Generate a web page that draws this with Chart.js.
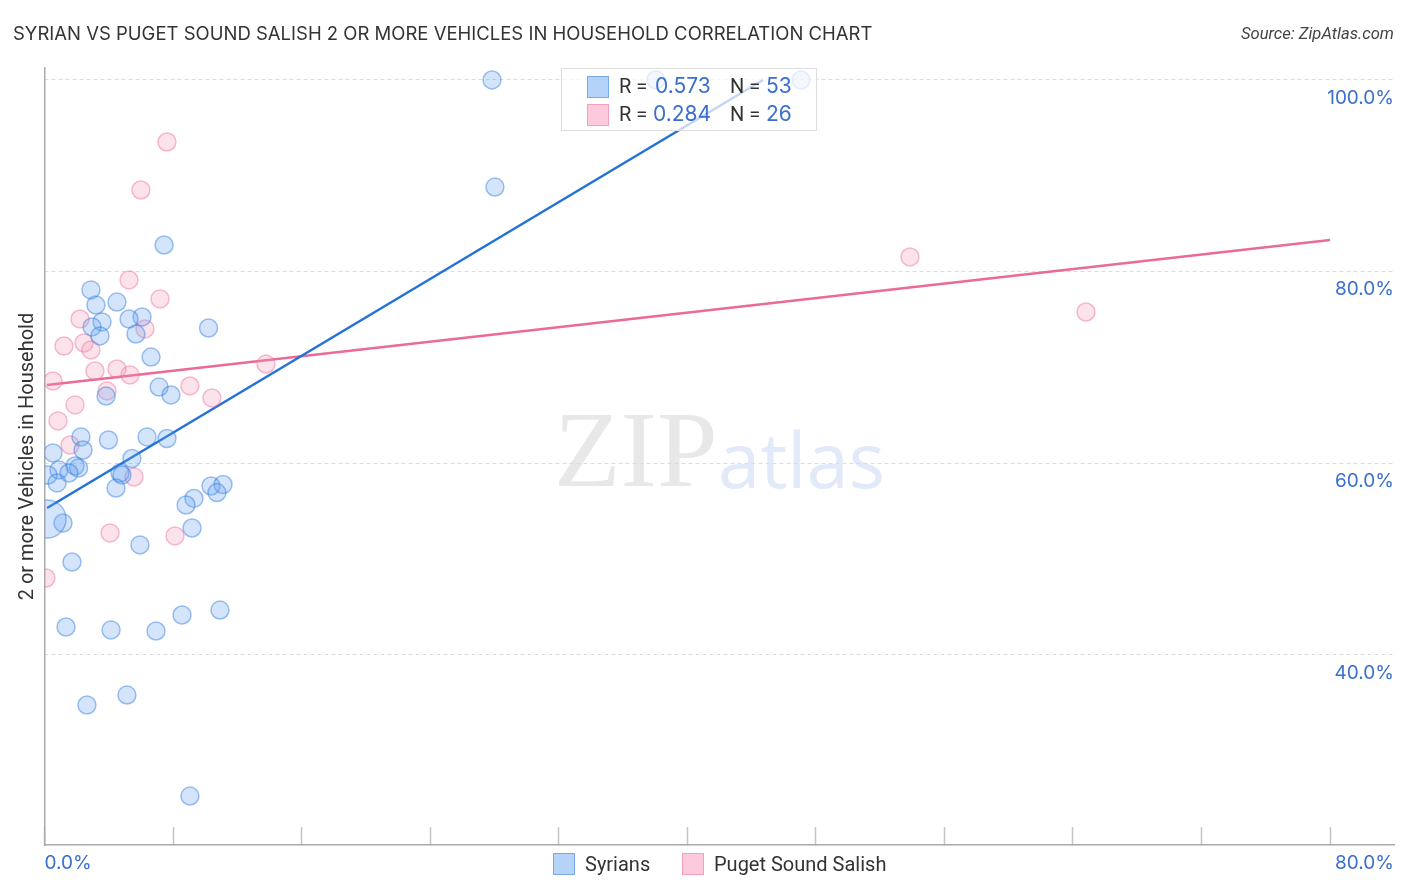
<!DOCTYPE html>
<html>
<head>
<meta charset="utf-8">
<title>Syrian vs Puget Sound Salish</title>
<script src="https://cdn.jsdelivr.net/npm/chart.js@4"></script>
<style>
    body { margin: 0; background: #fff; }
    #pagina { position: relative; width: 1406px; height: 892px; overflow: hidden; font-family: Roboto, sans-serif; }
    #grafico { position: absolute; left: 0; top: 0; }
    #titulo { position: absolute; left: 13px; top: 22px; font-family: Inter, sans-serif; font-size: 18.5px; color: #333; white-space: nowrap; }
    #fuente { position: absolute; right: 12px; top: 24px; font-size: 16.6px; font-style: italic; color: #444; white-space: nowrap; }
    #marcaZip { position: absolute; left: 554px; top: 387px; font-family: "Liberation Serif", serif; font-size: 109px; color: #e8e8e8; }
    #marcaAtlas { position: absolute; left: 718px; top: 407px; font-family: "Open Sans", sans-serif; font-size: 76px; color: #e2eafa; }
    #cajaStats { position: absolute; left: 561px; top: 68px; width: 254px; height: 61px; background: rgba(255,255,255,0.72); border: 1px solid #ddd; }
    .fila { position: absolute; left: 25px; height: 28px; line-height: 28px; font-size: 20px; color: #333; white-space: nowrap; }
    .fila .cuadro, .item .cuadro { position: absolute; width: 20px; height: 20px; border: 1px solid; }
    .fila b { position: absolute; font-weight: 400; font-size: 21px; color: #3a6fd0; font-family: Inter, sans-serif; }
    .fila span.txt { position: absolute; }
    .item { position: absolute; top: 853px; height: 22px; line-height: 22px; font-size: 20px; color: #333; white-space: nowrap; }
</style>
</head>
<body>
<div id="pagina">
    <div id="marcaZip">ZIP</div>
    <div id="marcaAtlas">atlas</div>
    <canvas id="grafico" width="1406" height="892"></canvas>
    <div id="titulo"></div>
    <div id="fuente"></div>
    <div id="cajaStats"></div>
    <div id="leyenda"></div>
</div>
<script>
const titulo = 'SYRIAN VS PUGET SOUND SALISH 2 OR MORE VEHICLES IN HOUSEHOLD CORRELATION CHART';
const fuente = 'Source: ZipAtlas.com';
const tituloEjeY = '2 or more Vehicles in Household';
const nombres = ['Syrians', 'Puget Sound Salish'];
const valoresR = ['0.573', '0.284'];
const valoresN = ['53', '26'];

const syriansX = [27.85, 38.05, 47.08, 28.03, 7.44, 2.89, 3.20, 4.51, 6.07, 5.26, 3.58, 2.96, 3.45, 5.69, 10.21, 6.63, 7.13, 7.87, 3.83, 2.27, 3.98, 6.38, 7.62, 2.40, 0.53, 5.44, 1.90, 2.12, 0.90, 1.52, 0.22, 0.78, 4.70, 4.82, 4.45, 10.36, 11.11, 10.73, 9.30, 8.81, 9.18, 1.15, 0.16, 5.94, 1.71, 1.34, 4.14, 6.94, 8.56, 10.92, 5.13, 2.64, 9.05];
const syriansY = [100, 100, 100, 88.83, 82.78, 78.09, 76.52, 76.83, 75.27, 75.06, 74.75, 74.23, 73.29, 73.49, 74.12, 71.09, 67.96, 67.13, 67.02, 62.75, 62.43, 62.75, 62.59, 61.39, 61.08, 60.50, 59.72, 59.51, 59.30, 58.99, 58.78, 57.95, 58.99, 58.78, 57.42, 57.63, 57.79, 56.95, 56.33, 55.65, 53.25, 53.77, 54.19, 51.48, 49.70, 42.92, 42.61, 42.50, 44.17, 44.69, 35.82, 34.78, 25.28];
const salishX = [7.62, 6.00, 5.26, 7.19, 2.21, 6.25, 1.21, 2.46, 2.89, 3.14, 4.51, 5.32, 0.53, 3.89, 9.05, 10.42, 1.90, 0.84, 1.59, 5.57, 4.08, 8.12, 0.09, 13.78, 53.86, 64.81];
const salishY = [93.53, 88.52, 79.13, 77.15, 75.06, 74.02, 72.24, 72.56, 71.83, 69.63, 69.84, 69.22, 68.59, 67.55, 68.07, 66.82, 66.09, 64.42, 61.91, 58.57, 52.73, 52.42, 48.03, 70.36, 81.53, 75.79];

// rectas de tendencia, [inicio, fin]
const tendenciaSyriansX = [0.16, 44.71];
const tendenciaSyriansY = [55.34, 100];
const tendenciaSalishX = [0.16, 80];
const tendenciaSalishY = [68.17, 83.30];

const ticksX = [0, 8, 16, 24, 32, 40, 48, 56, 64, 72, 80];
const ticksY = [40, 60, 80, 100];
const limitesX = [0, 83.98];
const limitesY = [20.17, 101.25];

const AZUL = '#3a6fd0';
const colores = {
    syrians: { relleno: 'rgba(100,160,240,0.28)', borde: 'rgba(45,120,220,0.45)', caja: 'rgba(100,160,240,0.48)', linea: '#2272d8' },
    salish: { relleno: 'rgba(245,150,180,0.28)', borde: 'rgba(235,110,155,0.45)', caja: 'rgba(250,150,185,0.50)', linea: '#ea6a98' }
};

function aPuntos(xs, ys) {
    return xs.map((x, i) => ({ x: x, y: ys[i] }));
}

function datasetPuntos(xs, ys, color, radio) {
    return {
        type: 'scatter',
        data: aPuntos(xs, ys),
        backgroundColor: color.relleno,
        borderColor: color.borde,
        borderWidth: 1.5,
        pointRadius: radio,
        pointHoverRadius: radio
    };
}

function datasetTendencia(xs, ys, color) {
    return {
        type: 'line',
        data: aPuntos(xs, ys),
        borderColor: color.linea,
        borderWidth: 2.5,
        pointRadius: 0,
        fill: false
    };
}

const indiceGrande = syriansX.indexOf(0.16);

// los puntos no pasan del eje izquierdo
const recorteArea = {
    id: 'recorteArea',
    beforeDatasetDraw(chart) {
        const a = chart.chartArea;
        chart.ctx.save();
        chart.ctx.beginPath();
        chart.ctx.rect(a.left, a.top, a.width, a.height);
        chart.ctx.clip();
    },
    afterDatasetDraw(chart) {
        chart.ctx.restore();
    }
};

new Chart(document.getElementById('grafico').getContext('2d'), {
    data: {
        datasets: [
            datasetPuntos(syriansX, syriansY, colores.syrians, ctx => ctx.dataIndex === indiceGrande ? 19 : 9),
            datasetPuntos(salishX, salishY, colores.salish, 9),
            datasetTendencia(tendenciaSyriansX, tendenciaSyriansY, colores.syrians),
            datasetTendencia(tendenciaSalishX, tendenciaSalishY, colores.salish)
        ]
    },
    plugins: [recorteArea],
    options: {
        responsive: false,
        animation: false,
        layout: { autoPadding: false, padding: { top: 68, right: 12, left: 0, bottom: 0 } },
        plugins: { legend: { display: false }, tooltip: { enabled: false } },
        scales: {
            x: {
                type: 'linear',
                min: limitesX[0],
                max: limitesX[1],
                afterBuildTicks: eje => { eje.ticks = ticksX.concat(limitesX[1]).map(v => ({ value: v })); },
                afterFit: eje => { eje.height = 47; eje.paddingRight = 0; eje.paddingLeft = 0; },
                border: { color: '#aaa', width: 1.5 },
                grid: {
                    drawOnChartArea: false,
                    tickLength: -18,
                    tickWidth: 1.5,
                    tickColor: ctx => ctx.index === ticksX.length ? 'transparent' : '#c4c4c4'
                },
                ticks: {
                    autoSkip: false,
                    maxRotation: 0,
                    align: 'inner',
                    padding: 25,
                    color: AZUL,
                    font: { family: 'Inter', size: 19 },
                    callback: (v, i) => i === 0 ? '0.0%' : (i === ticksX.length ? '80.0%' : '')
                }
            },
            y: {
                position: 'right',
                min: limitesY[0],
                max: limitesY[1],
                afterBuildTicks: eje => { eje.ticks = ticksY.map(v => ({ value: v })); },
                afterFit: eje => { eje.width = 0; },
                border: { display: false, dash: [4, 3] },
                grid: { drawTicks: false, color: '#dcdcdc' },
                ticks: {
                    mirror: true,
                    padding: 0,
                    labelOffset: 18,
                    color: AZUL,
                    font: { family: 'Inter', size: 19 },
                    callback: v => v.toFixed(1) + '%'
                }
            },
            ejeIzq: {
                position: 'left',
                min: limitesY[0],
                max: limitesY[1],
                afterFit: eje => { eje.width = 44.5; },
                border: { color: '#aaa', width: 1.5 },
                grid: { display: false },
                ticks: { display: false },
                title: {
                    display: true,
                    text: tituloEjeY,
                    color: '#333',
                    font: { family: 'Roboto', size: 20 },
                    padding: { top: 16, bottom: 0 }
                }
            }
        }
    }
});

// textos y leyendas en HTML
document.getElementById('titulo').textContent = titulo;
document.getElementById('fuente').textContent = fuente;

const caja = document.getElementById('cajaStats');
const clavesColor = ['syrians', 'salish'];
clavesColor.forEach((clave, i) => {
    const fila = document.createElement('div');
    fila.className = 'fila';
    fila.style.top = (3 + i * 28) + 'px';
    fila.innerHTML = `<span class="cuadro" style="left:0;top:4px;background:${colores[clave].caja};border-color:${colores[clave].borde}"></span>`
        + `<span class="txt" style="left:32px">R =</span><b style="left:${i === 0 ? 68 : 66}px">${valoresR[i]}</b>`
        + `<span class="txt" style="left:143px">N =</span><b style="left:179px">${valoresN[i]}</b>`;
    caja.appendChild(fila);
});

const leyenda = document.getElementById('leyenda');
const posicionesLeyenda = [553, 682];
nombres.forEach((nombre, i) => {
    const item = document.createElement('div');
    item.className = 'item';
    item.style.left = posicionesLeyenda[i] + 'px';
    item.innerHTML = `<span class="cuadro" style="left:0;top:0;background:${colores[clavesColor[i]].caja};border-color:${colores[clavesColor[i]].borde}"></span>`
        + `<span style="margin-left:32px">${nombre}</span>`;
    leyenda.appendChild(item);
});
</script>
</body>
</html>
